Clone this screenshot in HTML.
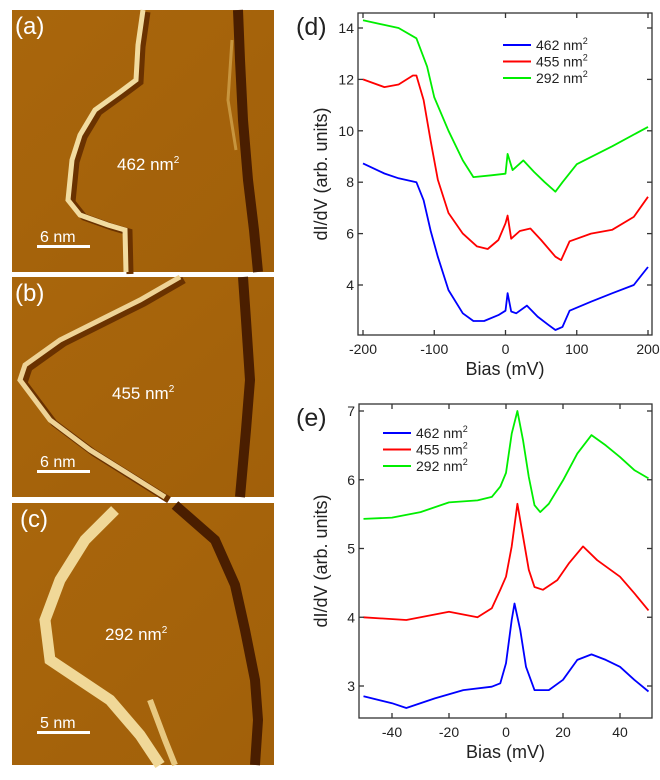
<!DOCTYPE html>
<html><head><meta charset="utf-8"><style>
html,body{margin:0;padding:0;background:#fff;}
svg{display:block;font-family:"Liberation Sans",Arial,sans-serif;}
</style></head><body>
<svg id="fig" width="660" height="780" viewBox="0 0 660 780">
<defs>
<linearGradient id="bg" x1="0" y1="0" x2="1" y2="1"><stop offset="0" stop-color="#a9660c"/><stop offset="1" stop-color="#a1600a"/></linearGradient>
</defs>
<!-- STM images -->
<g>
<rect x="12" y="10" width="262" height="262" fill="url(#bg)"/>
<path d="M143,10 L138,45 L136,80 L120,92 L95,110 L80,135 L72,160 L68,200 L80,215 L108,225 L125,230 L126,272" fill="none" stroke="#6a3200" stroke-width="7" transform="translate(4,2)"/>
<path d="M143,10 L138,45 L136,80 L120,92 L95,110 L80,135 L72,160 L68,200 L80,215 L108,225 L125,230 L126,272" fill="none" stroke="#f2dca0" stroke-width="5"/>
<path d="M238,10 L240,60 L243,120 L248,180 L254,230 L258,272" fill="none" stroke="#4a1e00" stroke-width="10"/>
<path d="M232,40 L228,100 L236,150" fill="none" stroke="#e0b860" stroke-width="3" opacity=".6"/>
<text x="15" y="34" fill="#fff" font-size="24">(a)</text>
<text x="117" y="170" fill="#fff" font-size="17">462 nm<tspan font-size="10" dy="-7">2</tspan></text>
<text x="40" y="242" fill="#fff" font-size="16">6 nm</text>
<rect x="37" y="245" width="53" height="3" fill="#fff"/>
</g>
<g>
<rect x="12" y="277" width="262" height="220" fill="url(#bg)"/>
<path d="M180,277 L140,300 L100,320 L60,340 L25,365 L20,380 L50,420 L90,450 L130,475 L165,497" fill="none" stroke="#6a3200" stroke-width="7" transform="translate(4,3)"/>
<path d="M180,277 L140,300 L100,320 L60,340 L25,365 L20,380 L50,420 L90,450 L130,475 L165,497" fill="none" stroke="#eed396" stroke-width="5"/>
<path d="M243,277 L246,320 L250,380 L246,430 L240,497" fill="none" stroke="#4a1e00" stroke-width="10"/>
<text x="15" y="301" fill="#fff" font-size="24">(b)</text>
<text x="112" y="399" fill="#fff" font-size="17">455 nm<tspan font-size="10" dy="-7">2</tspan></text>
<text x="40" y="467" fill="#fff" font-size="16">6 nm</text>
<rect x="37" y="470" width="53" height="3" fill="#fff"/>
</g>
<g>
<rect x="12" y="503" width="262" height="262" fill="url(#bg)"/>
<path d="M175,505 L215,540 L235,585 L245,630 L255,680 L258,720 L255,765" fill="none" stroke="#4a1e00" stroke-width="10"/>
<path d="M115,510 L85,540 L60,580 L45,620 L50,660 L80,680 L110,700 L140,735 L160,765" fill="none" stroke="#f0d898" stroke-width="11"/>
<path d="M150,700 L165,740 L175,765" fill="none" stroke="#e8c880" stroke-width="6"/>
<text x="20" y="527" fill="#fff" font-size="24">(c)</text>
<text x="105" y="640" fill="#fff" font-size="17">292 nm<tspan font-size="10" dy="-7">2</tspan></text>
<text x="40" y="728" fill="#fff" font-size="16">5 nm</text>
<rect x="37" y="731" width="53" height="3" fill="#fff"/>
</g>
<g id="charts"></g>
</svg>
<script>
// Panel (d) data
const dBlueX=[-200,-170,-150,-125,-115,-105,-95,-80,-60,-45,-30,-10,0,3,8,15,30,45,60,70,80,90,120,150,180,200];
const dBlueY=[8.73,8.34,8.15,8.0,7.3,6.1,5.1,3.8,2.9,2.6,2.6,2.83,3.0,3.68,2.97,2.9,3.2,2.77,2.45,2.25,2.37,3.0,3.35,3.68,4.0,4.7];
const dRedX=[-200,-170,-150,-130,-125,-115,-105,-95,-80,-60,-40,-25,-10,0,3,8,20,35,50,70,78,90,120,150,180,200];
const dRedY=[12.0,11.7,11.8,12.15,12.15,11.2,9.6,8.1,6.8,6.0,5.5,5.4,5.75,6.4,6.7,5.8,6.1,6.2,5.75,5.1,4.97,5.7,6.0,6.15,6.65,7.43];
const dGreenX=[-200,-150,-125,-110,-100,-80,-60,-45,-20,0,3,10,25,40,55,70,80,100,150,200];
const dGreenY=[14.3,14.0,13.6,12.5,11.3,10.0,8.85,8.2,8.27,8.33,9.1,8.47,8.85,8.4,8.0,7.63,8.0,8.7,9.4,10.15];
const dXTicks=[-200,-100,0,100,200];
const dYTicks=[4,6,8,10,12,14];
// Panel (e) data
const eBlueX=[-50,-40,-35,-25,-15,-5,-2,0,2,3,5,7,10,15,20,25,30,35,40,45,50];
const eBlueY=[2.85,2.75,2.68,2.82,2.94,2.99,3.04,3.33,3.96,4.2,3.81,3.28,2.94,2.94,3.09,3.38,3.46,3.38,3.28,3.09,2.92];
const eRedX=[-50,-35,-20,-10,-5,-2,0,2,4,6,8,10,13,18,22,27,32,40,45,50];
const eRedY=[4.0,3.96,4.08,4.0,4.13,4.4,4.59,5.03,5.65,5.17,4.69,4.44,4.4,4.54,4.78,5.03,4.83,4.59,4.35,4.1];
const eGreenX=[-50,-40,-30,-20,-10,-5,-2,0,2,4,6,8,10,12,15,20,25,30,35,40,45,50];
const eGreenY=[5.43,5.45,5.53,5.67,5.7,5.75,5.9,6.1,6.67,7.0,6.57,6.04,5.63,5.53,5.65,5.99,6.38,6.65,6.5,6.33,6.14,6.02];
const eXTicks=[-40,-20,0,20,40];
const eYTicks=[3,4,5,6,7];
const legendLabels=["462 nm","455 nm","292 nm"];
const colors=["#0000ff","#ff0000","#00ee00"];

const NS="http://www.w3.org/2000/svg";
const root=document.getElementById('charts');
function mk(tag,attrs,parent){const e=document.createElementNS(NS,tag);for(const k in attrs)e.setAttribute(k,attrs[k]);(parent||root).appendChild(e);return e;}

function chart(cfg){
  const g=mk('g',{});
  
  
  const sx=v=>cfg.x0+(v-cfg.xmin)/(cfg.xmax-cfg.xmin)*(cfg.x1-cfg.x0);
  const sy=v=>cfg.y0+(v-cfg.ymin)/(cfg.ymax-cfg.ymin)*(cfg.y1-cfg.y0);
  cfg.series.forEach((s,i)=>{
    const p=mk('polyline',{points:s[0].map((x,j)=>sx(x).toFixed(1)+','+sy(s[1][j]).toFixed(1)).join(' '),fill:'none',stroke:colors[i],'stroke-width':1.8,'stroke-linejoin':'round'},g);
    
    
  });
  const fr=mk('rect',{x:cfg.bx0,y:cfg.by0,width:cfg.bx1-cfg.bx0,height:cfg.by1-cfg.by0,fill:'none',stroke:'#333','stroke-width':1.3},g);
  
  
  cfg.xt.forEach(t=>{
    const x=sx(t);
    mk('line',{x1:x,x2:x,y1:cfg.by1,y2:cfg.by1-5,stroke:'#333','stroke-width':1.3},g);
    mk('line',{x1:x,x2:x,y1:cfg.by0,y2:cfg.by0+5,stroke:'#333','stroke-width':1.3},g);
    const tx=mk('text',{x:x,y:cfg.by1+19,'text-anchor':'middle','font-size':14,fill:'#222'},g);
    tx.textContent=t;
    
    
  });
  cfg.yt.forEach(t=>{
    const y=sy(t);
    mk('line',{x1:cfg.bx0,x2:cfg.bx0+5,y1:y,y2:y,stroke:'#333','stroke-width':1.3},g);
    mk('line',{x1:cfg.bx1,x2:cfg.bx1-5,y1:y,y2:y,stroke:'#333','stroke-width':1.3},g);
    const tx=mk('text',{x:cfg.bx0-4,y:y+5,'text-anchor':'end','font-size':14,fill:'#222'},g);
    tx.textContent=t;
    
    
  });
  const xl=mk('text',{x:(cfg.bx0+cfg.bx1)/2,y:cfg.by1+40,'text-anchor':'middle','font-size':18,fill:'#222'},g);
  xl.textContent='Bias (mV)';
  
  
  const yc=(cfg.by0+cfg.by1)/2;
  const yl=mk('text',{x:0,y:0,'text-anchor':'middle','font-size':18,fill:'#222',transform:'translate(327,'+yc+') rotate(-90)'},g);
  yl.textContent='dI/dV (arb. units)';
  
  
  const pl=mk('text',{x:296,y:cfg.by0+22,'font-size':25,fill:'#222'},g);
  pl.textContent=cfg.label;
  
  
  legendLabels.forEach((l,i)=>{
    const y=cfg.ly+i*16.5;
    const lg=mk('g',{},g);
    
    
    mk('line',{x1:cfg.lx,x2:cfg.lx+28,y1:y,y2:y,stroke:colors[i],'stroke-width':2},lg);
    const t=mk('text',{x:cfg.lx+33,y:y+5,'font-size':14,fill:'#222'},lg);
    t.textContent=l;
    const s=mk('tspan',{'font-size':9,dy:-6},t);
    s.textContent='2';
  });
}
chart({name:'chart-d',label:'(d)',x0:363,x1:648,xmin:-200,xmax:200,y0:285,y1:28,ymin:4,ymax:14,
  bx0:358,bx1:652,by0:13,by1:335,xt:dXTicks,yt:dYTicks,lx:503,ly:45,
  series:[[dBlueX,dBlueY],[dRedX,dRedY],[dGreenX,dGreenY]]});
chart({name:'chart-e',label:'(e)',x0:363.5,x1:648.5,xmin:-50,xmax:50,y0:686,y1:411,ymin:3,ymax:7,
  bx0:359,bx1:652,by0:404,by1:718,xt:eXTicks,yt:eYTicks,lx:383,ly:433,
  series:[[eBlueX,eBlueY],[eRedX,eRedY],[eGreenX,eGreenY]]});
</script>
</body></html>
